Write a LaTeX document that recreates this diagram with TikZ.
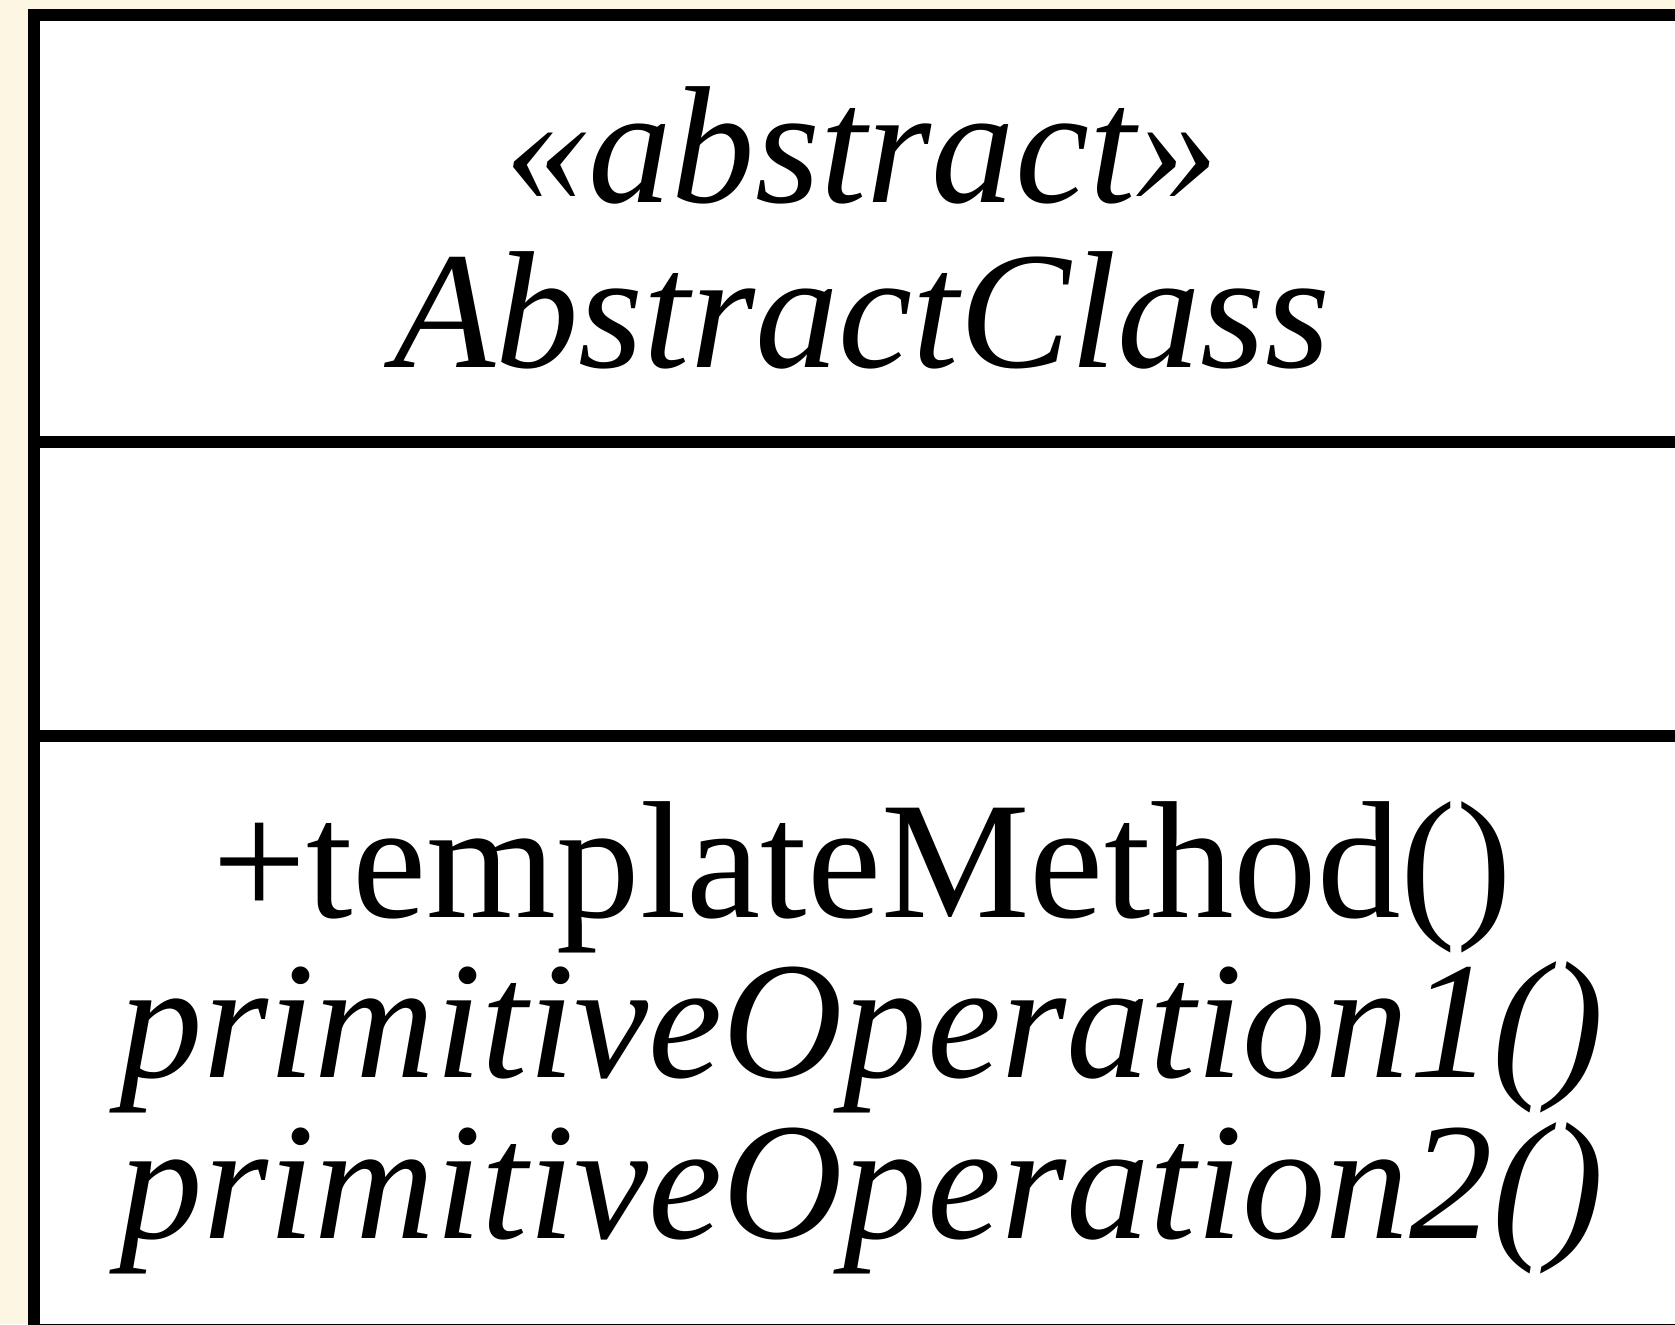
\documentclass[tikz,border=0pt]{standalone}
\usepackage{fontspec}
\setmainfont{Liberation Serif}
\definecolor{pagecream}{RGB}{253,246,227}
\tikzset{
  frame/.style={line width=6pt, draw=black, line cap=rect},
  label/.style={anchor=base, inner sep=0pt, font=\fontsize{83.5pt}{90pt}\selectfont},
}
\begin{document}
\begin{tikzpicture}[x=0.5pt, y=-0.5pt]
  \useasboundingbox (0,0) rectangle (1675,1324);
  \fill[pagecream] (0,0) rectangle (1675,1324);
  \clip (0,0) rectangle (1675,1324);
  % class box with its three compartments
  \fill[white] (34,15) rectangle (1690,1330);
  \draw[frame] (34,15) rectangle (1690,1330);
  \draw[frame] (34,442) -- (1690,442);
  \draw[frame] (34,736) -- (1690,736);
  % name compartment
  \node[label] (stereo) at (862,202) {\itshape «abstract»};
  \node[label] (cname)  at (862,367) {\itshape AbstractClass};
  % operations compartment
  \node[label] (op0) at (862,917)  {+templateMethod()};
  \node[label] (op1) at (862,1077) {\itshape primitiveOperation1()};
  \node[label] (op2) at (862,1238) {\itshape primitiveOperation2()};
\end{tikzpicture}
\end{document}
